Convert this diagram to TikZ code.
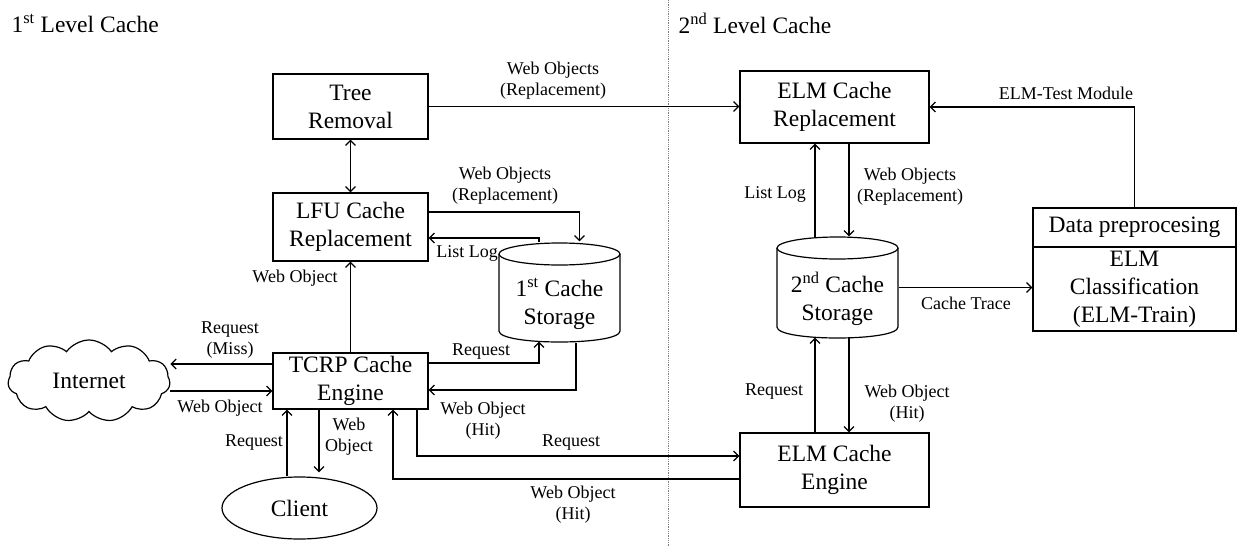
\documentclass[tikz,border=0pt]{standalone}
\usepackage{fontspec}
\setmainfont{Liberation Serif}
\usetikzlibrary{arrows.meta,shapes.geometric,shapes.symbols,calc}
\newcommand{\boxfnt}{\fontsize{23.5}{28}\selectfont}
\newcommand{\lblfnt}{\fontsize{18}{21}\selectfont}
\begin{document}
\begin{tikzpicture}[x=1pt,y=-1pt,line width=1.2pt,
  box/.style={draw,align=center,inner sep=0pt,font=\boxfnt},
  lbl/.style={align=center,inner sep=0pt,font=\lblfnt},
  ttl/.style={anchor=west,inner sep=0pt,font=\boxfnt},
  arr/.style={-{Straight Barb[length=5pt,width=10pt]}},
  arrtwo/.style={{Straight Barb[length=5pt,width=10pt]}-{Straight Barb[length=5pt,width=10pt]}}]
\fill[white] (0,0) rectangle (1237,546);
\useasboundingbox (0,0) rectangle (1237,546);

% divider and titles
\draw[gray,densely dotted,line width=0.8pt] (668,0) -- (668,546);
\node[ttl] (t1) at (11,23) {1\textsuperscript{st} Level Cache};
\node[ttl] (t2) at (678,23) {2\textsuperscript{nd} Level Cache};

% boxes
\node[box,minimum width=155pt,minimum height=65pt] (tree) at (350.5,106.5) {Tree\\Removal};
\node[box,minimum width=155pt,minimum height=68pt] (lfu) at (350.5,227) {LFU Cache\\Replacement};
\node[box,minimum width=155pt,minimum height=56pt] (tcrp) at (350.5,381) {TCRP Cache\\Engine};
\node[box,minimum width=189pt,minimum height=72pt] (elmrep) at (834.5,107) {ELM Cache\\Replacement};
\node[box,minimum width=189pt,minimum height=74pt] (elmeng) at (834.5,470) {ELM Cache\\Engine};
\node[box,minimum width=203pt,minimum height=39pt] (dp) at (1134.5,227.5) {Data preprocesing};
\node[box,minimum width=203pt,minimum height=84pt] (elmcls) at (1134.5,289) {ELM\\Classification\\(ELM-Train)};
\node[draw,ellipse,minimum width=155pt,minimum height=62pt,inner sep=0pt,font=\boxfnt] (client) at (299.5,508) {Client};
\node[draw,cloud,cloud puffs=11,cloud puff arc=110,aspect=2,minimum width=162pt,minimum height=82pt,inner sep=0pt,font=\boxfnt] (cloud) at (89,381) {Internet};

% storages
\node[minimum width=121pt,minimum height=99pt,inner sep=0pt] (st1) at (559.5,292.5) {};
\draw (559.5,254) ellipse[x radius=60.5,y radius=11];
\draw (499,254) -- (499,331) .. controls (499,345.67) and (620,345.67) .. (620,331) -- (620,254);
\node[font=\boxfnt,align=center,inner sep=0pt] (st1txt) at (559.5,304) {1\textsuperscript{st} Cache\\Storage};

\node[minimum width=121pt,minimum height=101pt,inner sep=0pt] (st2) at (837.5,287.5) {};
\draw (837.5,248) ellipse[x radius=60.5,y radius=11];
\draw (777,248) -- (777,327) .. controls (777,341.67) and (898,341.67) .. (898,327) -- (898,248);
\node[font=\boxfnt,align=center,inner sep=0pt] (st2txt) at (837.5,299) {2\textsuperscript{nd} Cache\\Storage};

% connectors
\draw[arr] (tree.east) -- (tree.east -| elmrep.west);
\node[lbl] (l1) at (553,81) {Web Objects\\(Replacement)};

\draw[arrtwo] (tree.south) -- (lfu.north);

\draw[arr] ([yshift=15pt]lfu.east) -| ([xshift=20pt,yshift=1pt]st1.north);
\node[lbl] (l2) at (505,186) {Web Objects\\(Replacement)};

\draw[arr] ([xshift=-20.5pt]st1.north) |- ([yshift=-11pt]lfu.east);
\node[lbl] (l3) at (467,253) {List Log};

\draw[arr] (tcrp.north) -- (lfu.south);
\node[lbl] (l4) at (295,278) {Web Object};

\draw[arr] ([yshift=18pt]tcrp.east) -| ([xshift=-20.5pt,yshift=1pt]st1.south);
\node[lbl] (l5) at (481,352) {Request};

\draw[arr] ([xshift=16.5pt]st1.south) |- ([yshift=-9pt]tcrp.east);
\node[lbl] (l6) at (483,421) {Web Object\\(Hit)};

\draw[arr] ([yshift=17pt]tcrp.west) -- ([yshift=17pt]tcrp.west -| cloud.east);
\node[lbl] (l7) at (230,340) {Request\\(Miss)};
\draw[arr] ([yshift=-10pt]tcrp.west -| cloud.east) -- ([yshift=-10pt]tcrp.west);
\node[lbl] (l8) at (220,408) {Web Object};

\draw[arr] ([xshift=-12.5pt]client.north) -- ([xshift=-12.5pt]client.north |- tcrp.south);
\node[lbl] (l9) at (254,443) {Request};
\draw[arr] ([xshift=19.5pt]client.north |- tcrp.south) -- ([xshift=19.5pt,yshift=4pt]client.north);
\node[lbl] (l10) at (349,437) {Web\\Object};

\draw[arr] ([xshift=66.5pt]tcrp.south) |- ([yshift=14pt]elmeng.west);
\node[lbl] (l11) at (571,443) {Request};
\draw[arr] ([yshift=-9pt]elmeng.west) -| ([xshift=42.5pt]tcrp.south);
\node[lbl] (l12) at (573,505) {Web Object\\(Hit)};

\draw[arr] ([xshift=-22.5pt,yshift=-1pt]st2.north) -- ([xshift=-22.5pt]st2.north |- elmrep.south);
\node[lbl] (l13) at (775,194) {List Log};
\draw[arr] ([xshift=11.5pt]st2.north |- elmrep.south) -- ([xshift=11.5pt]st2.north);
\node[lbl] (l14) at (910,187) {Web Objects\\(Replacement)};

\draw[arr] (st2.east) -- (st2.east -| elmcls.west);
\node[lbl] (l15) at (966,303) {Cache Trace};

\draw[arr] ([xshift=-22.5pt]st2.south |- elmeng.north) -- ([xshift=-22.5pt,yshift=1pt]st2.south);
\node[lbl] (l16) at (774,392) {Request};
\draw[arr] ([xshift=11.5pt,yshift=1pt]st2.south) -- ([xshift=11.5pt]st2.south |- elmeng.north);
\node[lbl] (l17) at (907,404) {Web Object\\(Hit)};

\draw[arr] (dp.north) |- (elmrep.east);
\node[lbl] (l18) at (1066,93) {ELM-Test Module};
\end{tikzpicture}
\end{document}
